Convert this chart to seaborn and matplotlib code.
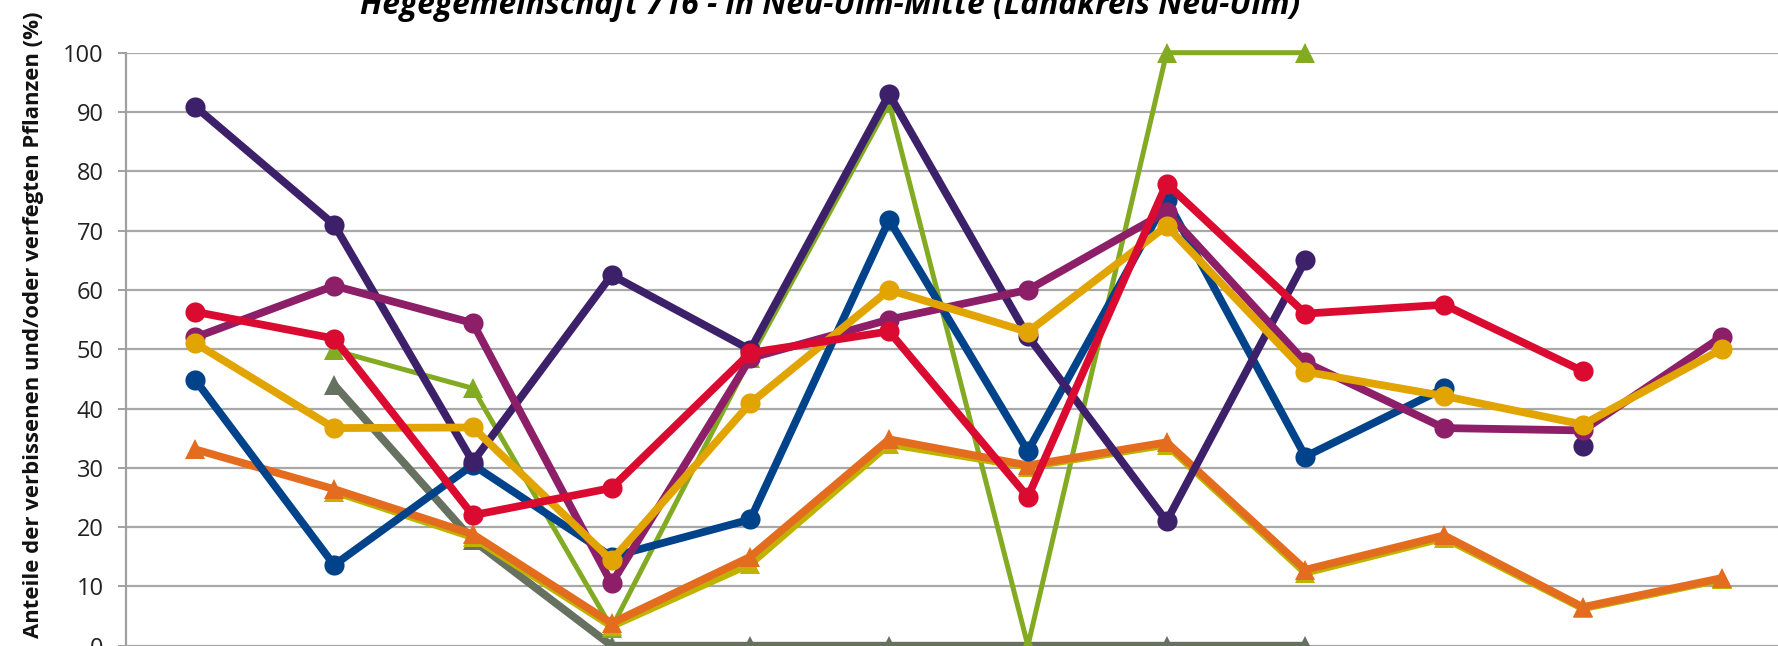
import numpy as np
import pandas as pd
import matplotlib
matplotlib.use("Agg")
import matplotlib.pyplot as plt
import seaborn as sns

nan = np.nan

categories = ["1991", "1994", "1997", "2000", "2003", "2006",
              "2009", "2012", "2015", "2018", "2021", "2024"]

tanne = [90.9, 71.0, 31.0, 62.5, 49.9, 93.0, 52.2, 21.0, 65.0, nan, 33.6, nan]
fichte = [44.8, 13.6, 30.5, 15.0, 21.3, 71.8, 32.8, 75.2, 31.9, 43.4, nan, nan]
buche = [56.3, 51.8, 22.0, 26.6, 49.4, 53.0, 25.1, 77.9, 56.0, 57.5, 46.3, nan]
edellaubholz = [52.0, 60.7, 54.4, 10.5, 48.5, 55.0, 60.0, 73.2, 47.8, 36.7, 36.3, 52.1]
sonst_laubholz = [51.0, 36.7, 36.8, 14.4, 40.9, 60.0, 52.9, 70.8, 46.2, 42.1, 37.3, 50.0]
kiefer = [nan, 49.8, 43.4, 3.0, 48.5, 91.5, 0.0, 100.0, 100.0, nan, nan, nan]
laerche = [nan, 44.0, 17.8, 0.0, 0.0, 0.0, 0.0, 0.0, 0.0, nan, nan, nan]
eiche = [33.1, 26.4, 18.8, 3.8, 15.0, 34.8, 30.4, 34.3, 12.8, 18.6, 6.5, 11.4]
gesamt = [nan, 26.0, 18.3, 3.3, 13.8, 34.0, 30.2, 33.9, 12.3, 18.2, 6.3, 11.2]

title = "Hegegemeinschaft 716 - in Neu-Ulm-Mitte (Landkreis Neu-Ulm)"
ylabel = "Anteile der verbissenen und/oder verfegten Pflanzen (%)"

# drawing order (bottom -> top): name, values, color, marker, linewidth
series = [
    ("Lärche", laerche, "#667160", "^", 5.6),
    ("Kiefer", kiefer, "#82AA22", "^", 3.6),
    ("Gesamt", gesamt, "#BFB300", "^", 5.6),
    ("Eiche", eiche, "#E46C1F", "^", 5.6),
    ("Fichte", fichte, "#00438A", "o", 5.6),
    ("Tanne", tanne, "#3D206A", "o", 5.6),
    ("Edellaubholz", edellaubholz, "#8C1F67", "o", 5.6),
    ("Sonstiges Laubholz", sonst_laubholz, "#E1A400", "o", 5.6),
    ("Buche", buche, "#DA0A31", "o", 5.6),
]

sns.set_theme(style="white")
plt.rcParams["font.family"] = ["Open Sans", "DejaVu Sans"]

W, H = 1778, 646
fig = plt.figure(figsize=(W / 100, H / 100), dpi=100)
x0, x1 = 126.0, 1791.0
y0, y1 = 645.7, 52.7
ax = fig.add_axes([x0 / W, (H - y0) / H, (x1 - x0) / W, (y0 - y1) / H])

for z, (name, vals, col, mk, lw) in enumerate(series):
    v = pd.Series(vals, dtype=float)
    run = v.isna().cumsum()
    df = pd.DataFrame({"x": np.arange(len(categories)), "v": v, "run": run,
                       "Serie": name}).dropna(subset=["v"])
    ms = 14.5 if mk == "o" else 15
    sns.lineplot(data=df, x="x", y="v", units="run", estimator=None,
                 color=col, marker=mk, markersize=ms, markeredgewidth=0,
                 linewidth=lw, legend=False, ax=ax, clip_on=False,
                 zorder=3 + z, sort=False)

ax.set_xlim(-0.5, len(categories) - 0.5)
ax.set_ylim(0, 100)
ax.set_yticks(np.arange(0, 101, 10))
ax.set_xticks(np.arange(len(categories)))
ax.set_xticklabels([])  # category labels lie below the visible area
ax.set_xlabel("")
ax.set_ylabel("")
ax.yaxis.grid(True, color="#A8A8A8", linewidth=1.6)
ax.xaxis.grid(False)
ax.set_axisbelow(True)
for s in ["top", "right", "bottom"]:
    ax.spines[s].set_visible(False)
ax.spines["left"].set_color("#A0A0A0")
ax.spines["left"].set_linewidth(1.6)
ax.tick_params(axis="y", which="major", length=6, width=1.4, color="#A0A0A0",
               direction="out", pad=10, labelsize=17, labelcolor="#222222", left=True)
ax.tick_params(axis="x", length=0)

t = fig.text(830 / W, 1 - 13.5 / H, title, ha="center", va="baseline",
             fontsize=20, fontweight="bold", fontstyle="italic", color="black")
yl = fig.text(34 / W, 1 - 325 / H, ylabel, ha="center", va="center",
              rotation=90, fontsize=14, fontweight="bold", color="#111111")

fig.canvas.draw()
r = fig.canvas.get_renderer()
tw = t.get_window_extent(r).width
t.set_fontsize(20 * 941.0 / tw)
yh = yl.get_window_extent(r).height
yl.set_fontsize(14 * 630.0 / yh)

fig.savefig("out.png", dpi=100)
